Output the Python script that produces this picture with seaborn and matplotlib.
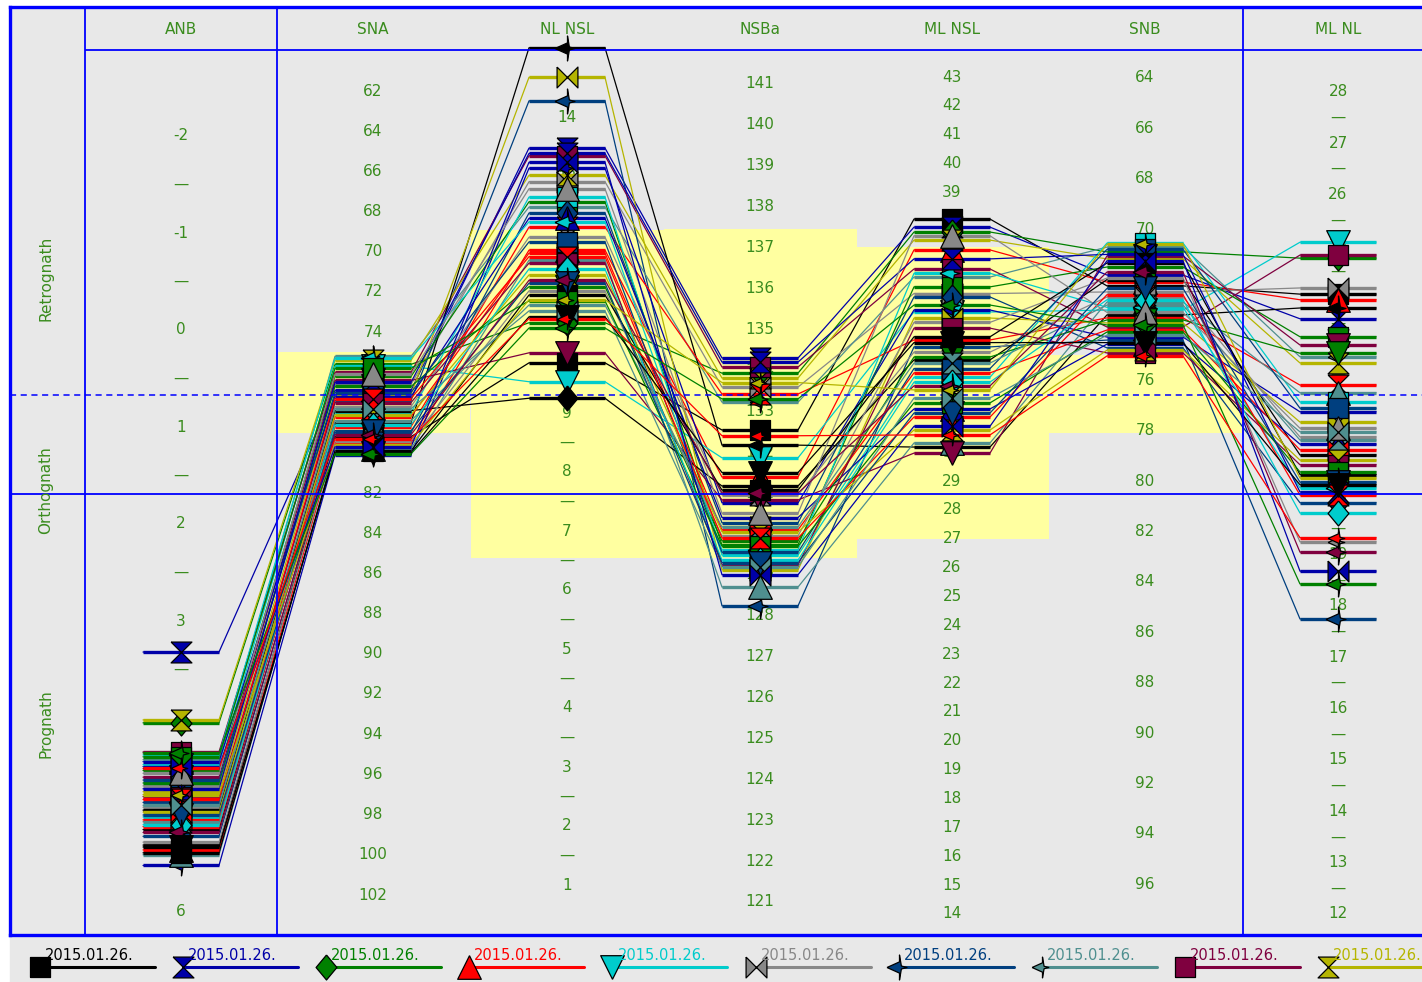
import numpy as np
import pandas as pd
import seaborn as sns
import matplotlib.pyplot as plt
from matplotlib.patches import Rectangle

# measurement columns of the polygon chart
columns = ["ANB", "SNA", "NL NSL", "NSBa", "ML NSL", "SNB", "ML NL"]

# one value per patient record, same order in every list
anb = [5.31, 3.32, 4.05, 5.36, 4.48, 4.70, 4.87, 4.43, 4.35, 4.02,
       5.15, 5.52, 4.54, 5.12, 5.02, 4.92, 5.22, 5.41, 4.61, 4.76,
       4.95, 4.45, 4.67, 5.05, 4.38, 5.28, 4.64, 5.07, 4.81, 4.97,
       5.39, 4.73, 4.40, 4.84, 5.10, 4.57, 5.00, 4.90, 5.18, 4.79,
       5.33, 4.50, 4.36, 4.52]
sna = [79.2, 76.9, 75.6, 79.5, 75.7, 76.6, 77.4, 75.2, 76.0, 75.4,
       78.5, 80.1, 76.2, 78.7, 78.0, 77.7, 79.0, 79.8, 76.4, 77.1,
       77.9, 77.2, 76.7, 78.2, 75.3, 79.4, 77.0, 78.4, 77.5, 78.1,
       79.9, 76.5, 75.8, 77.3, 78.6, 76.1, 78.9, 77.8, 79.1, 79.6,
       80.0, 79.7, 80.05, 79.3]
nl_nsl = [9.85, 13.49, 10.53, 11.76, 9.53, 12.92, 14.29, 12.49, 13.36, 13.03,
          15.19, 13.15, 12.58, 12.15, 12.66, 11.98, 12.39, 11.59, 10.02, 14.69,
          9.25, 12.30, 11.14, 11.71, 12.24, 11.07, 11.90, 10.83, 11.54, 11.34,
          11.00, 13.40, 10.90, 11.65, 11.44, 12.80, 11.20, 10.73, 11.25, 10.92,
          10.63, 13.25, 10.44, 10.60]
nsba = [132.54, 134.30, 133.93, 131.39, 131.86, 133.59, 128.24, 133.22, 134.08, 133.81,
        132.17, 130.76, 129.73, 133.42, 129.48, 130.95, 130.27, 128.70, 130.83, 129.12,
        131.17, 130.40, 129.83, 130.10, 129.61, 129.95, 129.55, 130.17, 129.24, 130.05,
        131.07, 134.20, 129.70, 129.90, 129.36, 130.50, 129.30, 129.20, 131.00, 133.70,
        131.50, 129.00, 133.30, 132.40]
ml_nsl = [38.08, 37.80, 37.63, 37.01, 34.86, 35.50, 33.65, 36.07, 36.35, 37.35,
          30.18, 34.93, 35.73, 33.89, 32.60, 33.47, 35.38, 30.32, 29.97, 34.65,
          33.20, 31.50, 33.30, 32.75, 36.20, 34.50, 32.90, 33.09, 34.30, 30.77,
          34.00, 36.70, 31.71, 31.22, 32.43, 37.50, 31.36, 31.88, 32.30, 32.16,
          33.80, 30.90, 35.10, 30.60]
snb = [72.25, 71.82, 70.90, 72.10, 73.21, 72.49, 74.40, 70.71, 73.88, 71.18,
       73.40, 74.28, 71.50, 73.52, 70.55, 72.69, 74.71, 72.89, 71.06, 73.72,
       72.00, 74.56, 73.60, 74.00, 73.10, 71.94, 70.80, 73.01, 74.91, 74.80,
       71.34, 71.00, 74.08, 72.60, 72.80, 73.30, 72.35, 74.20, 71.70, 70.60,
       74.50, 71.25, 73.80, 75.03]
ml_nl = [24.06, 23.58, 24.76, 23.95, 25.07, 24.18, 17.74, 22.84, 24.82, 22.72,
         23.79, 21.77, 23.23, 22.29, 21.96, 21.28, 20.00, 22.14, 23.07, 21.57,
         20.93, 21.14, 22.91, 21.03, 20.29, 19.24, 21.84, 21.22, 20.74, 20.83,
         20.55, 20.21, 20.60, 20.15, 19.80, 21.45, 20.40, 21.38, 19.04, 20.48,
         20.35, 18.67, 18.42, 19.32]

# norm ranges (yellow boxes)
norm_cols = ["SNA", "NL NSL", "NSBa", "ML NSL", "SNB"]
norm_low = [75.0, 6.55, 129.4, 27.0, 75.0]
norm_high = [79.0, 12.1, 137.45, 37.1, 78.1]

region_labels = ["Retrognath", "Orthognath", "Prognath"]
legend_label = "2015.01.26."

# tick labels of each column and the half-step dashes
tick_values = {
    "ANB": list(range(-2, 7)),
    "SNA": list(range(62, 103, 2)),
    "NL NSL": list(range(1, 15)),
    "NSBa": list(range(121, 142)),
    "ML NSL": list(range(14, 44)),
    "SNB": list(range(64, 97, 2)),
    "ML NL": list(range(12, 29)),
}
dash_values = {
    "ANB": [-1.5, -0.5, 0.5, 1.5, 2.5, 3.5, 4.5, 5.5],
    "NL NSL": [k + 0.5 for k in range(1, 14)],
    "ML NL": [k + 0.5 for k in range(12, 28)],
}

data = dict(zip(columns, [anb, sna, nl_nsl, nsba, ml_nsl, snb, ml_nl]))

# each column has its own vertical scale: (value, pixel row, pixels per unit)
scales = {
    "ANB": (0, 330, 97.0),
    "SNA": (62, 91, 20.1),
    "NL NSL": (1, 885, -59.0),
    "NSBa": (121, 902, -40.9),
    "ML NSL": (14, 914, -28.86),
    "SNB": (64, 78, 25.2),
    "ML NL": (12, 914, -51.4),
}
col_x = [181, 373, 567, 760, 952, 1145, 1338]
half_seg = 38

BLUE = "#0000ff"
GRAY = "#e8e8e8"
TEXT = "#3a8c1e"
YELLOW = "#ffffa0"
colors = ["#000000", "#0000a8", "#008000", "#ff0000", "#00cccc",
          "#888888", "#003f7f", "#4f8f8f", "#7f003f", "#b5b500"]


def close(v):
    return v + [v[0]]


star = [(-1, 0), (0, 0.45), (0, 1), (0.15, 0.12), (0.6, 0), (0.15, -0.12), (0, -1), (0, -0.45)]
markers = [
    close([(-1, -1), (1, -1), (1, 1), (-1, 1)]),
    close([(-1, 1), (1, 1), (-1, -1), (1, -1)]),
    close([(0, 1.2), (1, 0), (0, -1.2), (-1, 0)]),
    close([(0, 1), (1, -1), (-1, -1)]),
    close([(0, -1), (1, 1), (-1, 1)]),
    close([(-1, 1), (-1, -1), (1, 1), (1, -1)]),
    close(star),
    close(star),
    close([(-1, -1), (1, -1), (1, 1), (-1, 1)]),
    close([(-1, 1), (1, 1), (-1, -1), (1, -1)]),
]
marker_size = [15, 15, 18, 17, 17, 15, 18, 15, 15, 15]


def to_y(col, v):
    v0, y0, k = scales[col]
    return y0 + (np.asarray(v, dtype=float) - v0) * k


sns.set_style("white")
plt.rcParams["font.family"] = ["DejaVu Sans"]

fig = plt.figure(figsize=(14.22, 9.82), dpi=100)
fig.patch.set_facecolor("white")

bg = fig.add_axes([0, 0, 1, 1])
bg.set_xlim(0, 1422)
bg.set_ylim(982, 0)
bg.axis("off")
bg.add_patch(Rectangle((10, 936), 1412, 46, color=GRAY, zorder=0))

ax = fig.add_axes([10 / 1422, 47 / 982, 1430 / 1422, 928 / 982])
ax.set_facecolor(GRAY)

# norm boxes
for col, lo, hi in zip(norm_cols, norm_low, norm_high):
    x = col_x[columns.index(col)]
    y_lo, y_hi = sorted([float(to_y(col, lo)), float(to_y(col, hi))])
    ax.add_patch(Rectangle((x - 96.5, y_lo), 193, y_hi - y_lo, color=YELLOW, lw=0, zorder=0.5))

# column tick labels
for j, col in enumerate(columns):
    for v in tick_values[col]:
        ax.text(col_x[j], float(to_y(col, v)), str(v), ha="center", va="center",
                color=TEXT, fontsize=11, zorder=1)
    for v in dash_values.get(col, []):
        ax.text(col_x[j], float(to_y(col, v)), "\u2014", ha="center", va="center",
                color=TEXT, fontsize=11, zorder=1)
    ax.text(col_x[j], 29, col, ha="center", va="center", color=TEXT, fontsize=11, zorder=6)

# series polylines
n = len(anb)
rows = []
for i in range(n):
    for j, col in enumerate(columns):
        y = float(to_y(col, data[col][i]))
        rows.append((f"s{i:02d}", col_x[j] - half_seg, y))
        rows.append((f"s{i:02d}", col_x[j] + half_seg, y))
df = pd.DataFrame(rows, columns=["series", "x", "y"])
palette = {f"s{i:02d}": colors[i % 10] for i in range(n)}
sns.lineplot(data=df, x="x", y="y", hue="series", palette=palette, sort=False,
             estimator=None, legend=False, linewidth=0.9, ax=ax, zorder=2)

for i in range(n):
    c = colors[i % 10]
    ys = [float(to_y(col, data[col][i])) for col in columns]
    ax.hlines(ys, [x - half_seg for x in col_x], [x + half_seg for x in col_x],
              colors=c, lw=2.4, zorder=2.5)

for i in range(n):
    c = colors[i % 10]
    m = (i + 6 * (i // 10)) % 10
    ys = [float(to_y(col, data[col][i])) for col in columns]
    ax.plot(col_x, ys, ls="none", marker=markers[m], ms=marker_size[m],
            mfc=c, mec="black", mew=0.9, zorder=4)

# frame lines
ax.axvline(85, color=BLUE, lw=1.3, zorder=3)
ax.axvline(277, color=BLUE, lw=1.3, zorder=3)
ax.axvline(1243, color=BLUE, lw=1.3, zorder=3)
ax.hlines(50, 85, 1440, color=BLUE, lw=1.3, zorder=3)
ax.axhline(494, color=BLUE, lw=1.3, zorder=3)
ax.axhline(395, color=BLUE, lw=1.1, ls=(0, (4, 3)), zorder=3)

for label, y in zip(region_labels, [278, 490, 724]):
    ax.text(46, y, label, rotation=90, ha="center", va="center", color=TEXT, fontsize=11, zorder=6)

ax.set_xlim(10, 1440)
ax.set_ylim(935, 7)
ax.set_xticks([])
ax.set_yticks([])
ax.set_xlabel("")
ax.set_ylabel("")
for s in ax.spines.values():
    s.set_color(BLUE)
    s.set_linewidth(2.4)

# legend strip
for k in range(10):
    x0 = 40 + 143.1 * k
    bg.plot([x0, x0 + 115], [967, 967], color=colors[k], lw=2.2, zorder=2)
    bg.plot([x0], [967], ls="none", marker=markers[k], ms=marker_size[k],
            mfc=colors[k], mec="black", mew=0.9, zorder=3)
    bg.text(x0 + 5, 963, legend_label, ha="left", va="bottom", color=colors[k],
            fontsize=10.5, zorder=4)

fig.savefig("out.png", dpi=100, facecolor=fig.get_facecolor())
plt.close(fig)
